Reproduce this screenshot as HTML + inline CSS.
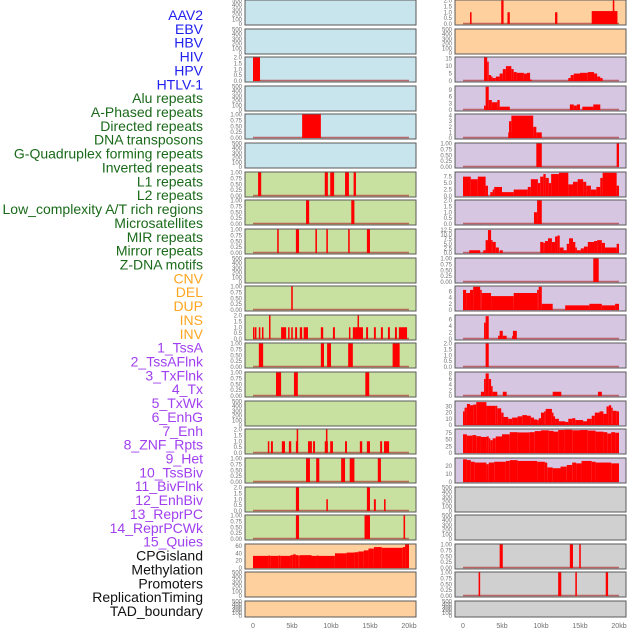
<!DOCTYPE html>
<html><head><meta charset="utf-8"><style>
html,body{margin:0;padding:0;background:#fff;}
svg{display:block;font-family:"Liberation Sans",sans-serif;}
</style></head><body>
<svg id="chart" width="630" height="630" viewBox="0 0 630 630" xmlns="http://www.w3.org/2000/svg"></svg>
<script>
const trackLabels = ["AAV2","EBV","HBV","HIV","HPV","HTLV-1","Alu repeats","A-Phased repeats","Directed repeats","DNA transposons","G-Quadruplex forming repeats","Inverted repeats","L1 repeats","L2 repeats","Low_complexity A/T rich regions","Microsatellites","MIR repeats","Mirror repeats","Z-DNA motifs","CNV","DEL","DUP","INS","INV","1_TssA","2_TssAFlnk","3_TxFlnk","4_Tx","5_TxWk","6_EnhG","7_Enh","8_ZNF_Rpts","9_Het","10_TssBiv","11_BivFlnk","12_EnhBiv","13_ReprPC","14_ReprPCWk","15_Quies","CPGisland","Methylation","Promoters","ReplicationTiming","TAD_boundary"];
const labelGroups = ["v","v","v","v","v","v","r","r","r","r","r","r","r","r","r","r","r","r","r","s","s","s","s","s","c","c","c","c","c","c","c","c","c","c","c","c","c","c","c","o","o","o","o","o"];
const xTickValues = [0,5,10,15,20];
const xTickLabels = ["0","5kb","10kb","15kb","20kb"];

const ticksEmpty = [0,100,200,300,400,500];
const ticksBin = [0,0.25,0.5,0.75,1];
const ticksBinLbl = ["0.00","0.25","0.50","0.75","1.00"];
const ticks2 = [0,0.5,1,1.5,2];
const ticks2Lbl = ["0.0","0.5","1.0","1.5","2.0"];

// Left column data (segments: [startKb, endKb, value])
const leftHIV = [[0,0.9,2]];
const leftHPV = [[6.3,8.7,1]];
const leftL1 = [[0.65,1.05,1],[9.2,9.6,1],[9.9,10.4,1],[11.8,12.3,1],[12.9,13.2,1]];
const leftL2 = [[6.8,7.2,1],[12.6,13.0,1]];
const leftLowComplexity = [[3.1,3.3,1],[5.5,5.9,1],[8.0,8.2,1],[9.4,9.6,1],[12.2,12.4,1],[14.6,15.0,1]];
const leftMIR = [[4.9,5.1,1]];
const leftZDNA = [[0,0.15,1],[0.25,0.4,1],[0.75,0.9,1],[1.15,1.3,1],[2.05,2.2,2],[3.6,4.25,1],[4.5,4.6,1],[4.9,5.1,1],[5.4,5.65,1],[6.0,6.3,1],[6.5,7.05,1],[8.7,9.0,1],[10.25,10.5,1],[12.3,12.45,1],[12.8,13.2,1],[13.2,14.1,1],[13.4,13.55,2],[14.5,14.75,1],[15.5,15.75,1],[16.4,16.65,1],[17.3,17.55,1],[18.2,18.45,1],[18.7,19.75,1]];
const leftCNV = [[0.75,1.3,1],[8.7,9.1,1],[9.5,10.0,1],[12.2,12.8,1],[17.9,18.8,1]];
const leftDEL = [[2.95,3.6,1],[5.25,5.75,1],[14.4,14.9,1]];
const leftINS = [[1.9,2.05,1],[2.3,2.55,1],[3.7,4.1,1],[4.6,4.9,1],[5.5,5.75,1],[5.6,5.75,2],[7.05,7.55,1],[7.7,7.95,1],[9.2,9.6,1],[9.35,9.5,2],[9.9,10.25,1],[11.8,12.05,1],[13.7,14.0,1],[14.6,15.0,1],[16.3,16.55,1],[16.8,17.45,1]];
const leftINV = [[6.8,7.3,1],[8.1,8.5,1],[11.3,11.8,1],[12.4,13.0,1],[16.0,16.4,1]];
const leftTssA = [[5.5,5.9,2],[9.4,9.6,1],[14.6,15.0,2],[15.5,15.75,1],[16.8,17.0,1]];
const leftTssAFlnk = [[5.5,5.9,1],[14.3,15.0,1],[19.3,19.5,1]];
// step series: [startKb, value], holds until next start or 20kb
const leftTxFlnkSteps = [[0,33],[2,34],[2.2,33],[3.3,34],[3.5,33],[4.8,35],[5.1,37],[5.5,35],[5.8,34],[6,35],[7.5,33],[8.2,34],[8.4,33],[10.5,40],[12,42],[13,43],[13.5,45],[14.2,48],[14.8,53],[15.5,57],[16.5,55],[19.2,57],[19.5,64]];

// Right column data
const rightAAV2 = [[0.9,1.1,1],[4.9,5.2,2],[5.7,6.0,1],[11.8,12.1,1],[16.5,19.8,1.1],[19.2,19.4,2]];
const rightHIV = [[2.7,3.1,16],[3.1,3.3,13],[3.3,3.6,4],[3.6,3.8,3],[3.8,4.2,2],[4.2,4.7,3],[4.7,5.1,5],[5.1,5.5,8],[5.5,6.2,10],[6.2,6.5,8],[6.5,6.9,6],[6.9,7.8,5.5],[7.8,8.2,5],[8.2,8.6,5.5],[8.6,8.8,1],[13.5,13.8,2],[13.8,14.2,4],[14.2,15.0,5],[15.0,16.0,5.5],[16.0,16.8,6],[16.8,17.2,5],[17.2,17.6,3],[17.6,17.9,2]];
const rightHPV = [[2.7,2.9,2],[2.9,3.3,10.5],[3.3,3.7,4.5],[3.7,4.4,3.5],[4.4,4.7,4.5],[4.7,6.0,1.5],[13.7,14.2,2.5],[14.2,14.6,2],[14.6,15.0,2.5],[15.3,16.7,1.5],[16.7,17.6,2.5]];
const rightHTLV = [[5.8,6.2,1],[5.9,6.2,3],[6.2,9.0,4],[9.0,9.4,2],[9.4,10.1,1]];
const rightAlu = [[9.4,10.1,1],[19.7,20,1]];
const rightDirectedSteps = [[0,7.5],[1.0,6.5],[1.9,7.5],[2.9,4],[3.2,0],[3.5,1.5],[3.8,2.5],[4.0,3.5],[5.0,1.5],[6.5,2.5],[8.3,3.5],[8.7,6.5],[9.6,5],[9.9,7.5],[10.3,8.5],[10.6,7],[11.0,5],[11.3,8.5],[12.3,9],[13.5,4.5],[14.1,5.5],[14.7,6.5],[15.4,5.5],[15.8,4],[16.4,2.5],[17.1,3.5],[17.6,7],[17.9,9],[19.7,4]];
const rightDNA = [[9.1,9.5,1],[9.5,10.1,2]];
const rightGQuadSteps = [[0.8,1.5],[2.2,0],[2.6,1.5],[2.9,7],[3.2,12.5],[3.6,7],[3.8,6],[4.2,3],[4.6,0],[4.7,1.5],[5.1,0],[9.9,6],[10.3,5.5],[10.5,6.5],[10.9,8],[11.4,6],[11.8,9],[12.1,9.5],[12.4,3],[12.9,1.5],[13.3,5],[13.6,8],[14.1,6],[14.4,3],[14.6,1.5],[15.1,2.5],[15.5,3.5],[16.0,6],[16.8,6.5],[17.2,7],[17.8,5.5],[18.2,3],[19.7,5]];
const rightInverted = [[16.7,17.4,1]];
const rightL1Steps = [[0,6.5],[0.4,5.5],[0.9,6.5],[1.3,7.5],[2.2,6.5],[2.4,5.5],[3.6,4.5],[6.5,5.5],[9.5,6.5],[9.7,7.5],[10.1,2],[11.5,0],[13.1,1.5],[16.2,2],[17.8,1.5],[19.5,2]];
const rightL2 = [[2.7,2.9,5],[2.9,3.3,7],[4.5,4.7,1],[4.7,5.1,2.5],[5.1,5.6,1],[6.3,6.4,1],[6.4,6.9,2.5]];
const rightLowComplexity = [[2.9,3.3,2]];
const rightMicro = [[2.3,2.7,1.5],[2.7,2.9,6],[2.9,3.3,8],[3.3,3.6,6],[3.6,3.8,3.5],[3.8,4.4,1.5],[5.1,5.6,1.5],[11.5,12.6,1.5],[17.3,17.8,1.5]];
const rightMIRSteps = [[0,22],[0.2,28],[0.5,34],[0.9,32],[1.3,33],[1.7,37],[3.0,31],[4.2,31],[4.4,27],[4.9,20],[5.2,13],[5.8,10],[6.3,12],[7.0,14],[7.6,16],[8.2,15],[8.7,12],[9.1,9],[9.5,8],[9.7,11],[10.0,20],[10.4,22],[10.6,26],[11.4,20],[11.6,14],[11.8,10],[12.3,6],[13.1,5],[13.5,10],[14.0,11],[14.4,8],[15.4,6],[15.9,10],[16.5,15],[16.9,20],[17.5,22],[18.0,18],[18.4,30],[18.7,32],[19.0,28],[19.2,23],[19.7,22]];
const rightMirrorSteps = [[0,70],[0.5,65],[1.2,67],[1.7,63],[2.3,60],[3.0,62],[3.3,55],[3.5,48],[3.8,55],[4.2,62],[5,70],[6,78],[7,77],[8.5,78],[9.2,82],[10,85],[11,83],[11.6,80],[12.2,86],[13,87],[14,85],[15,86],[16,84],[17,80],[18,78],[18.5,73],[19,78],[19.5,76]];
const rightZDNASteps = [[0,28],[0.5,27],[1,25],[1.5,24],[3,22],[3.3,24],[4,25],[5.5,26],[6,27],[7,26],[9.5,25],[10.5,24],[10.8,18],[11.5,17],[12.5,19],[13.3,21],[14,24],[14.5,23],[15.2,26],[16.5,25],[17,24],[19,23]];
const rightTssA = [[4.7,5.1,1],[13.7,14.1,1],[14.9,15.1,1]];
const rightTssAFlnk = [[2.0,2.2,1],[12.2,12.6,1],[14.4,14.6,1],[18.3,18.6,1]];

const COL = {blue:"#c8e4ec",green:"#c8e0a0",orange:"#fdd09e",purple:"#d6c6e2",gray:"#d0d0d0"};
// panel: [column, row, bg, ticks, tickLabels, ymax, segs, steps]
const panels = [
 ["L",0,"blue",ticksEmpty,null,500,null,null],["L",1,"blue",ticksEmpty,null,500,null,null],
 ["L",2,"blue",ticks2,ticks2Lbl,2,leftHIV,null],["L",3,"blue",ticksEmpty,null,500,null,null],
 ["L",4,"blue",ticksBin,ticksBinLbl,1,leftHPV,null],["L",5,"blue",ticksEmpty,null,500,null,null],
 ["L",6,"green",ticksBin,ticksBinLbl,1,leftL1,null],["L",7,"green",ticksBin,ticksBinLbl,1,leftL2,null],
 ["L",8,"green",ticksBin,ticksBinLbl,1,leftLowComplexity,null],["L",9,"green",ticksEmpty,null,500,null,null],
 ["L",10,"green",ticksBin,ticksBinLbl,1,leftMIR,null],["L",11,"green",ticks2,ticks2Lbl,2,leftZDNA,null],
 ["L",12,"green",ticksBin,ticksBinLbl,1,leftCNV,null],["L",13,"green",ticksBin,ticksBinLbl,1,leftDEL,null],
 ["L",14,"green",ticksEmpty,null,500,null,null],["L",15,"green",ticks2,ticks2Lbl,2,leftINS,null],
 ["L",16,"green",ticksBin,ticksBinLbl,1,leftINV,null],["L",17,"green",ticks2,ticks2Lbl,2,leftTssA,null],
 ["L",18,"green",ticksBin,ticksBinLbl,1,leftTssAFlnk,null],["L",19,"orange",[0,20,40,60],null,64,null,leftTxFlnkSteps],
 ["L",20,"orange",ticksEmpty,null,500,null,null],["L",21,"orange",ticksEmpty,null,500,null,null],
 ["R",0,"orange",ticks2,ticks2Lbl,2,rightAAV2,null],["R",1,"orange",ticksEmpty,null,500,null,null],
 ["R",2,"purple",[0,5,10,15],null,15.8,rightHIV,null],["R",3,"purple",[0,3,6,9],null,10.6,rightHPV,null],
 ["R",4,"purple",[0,1,2,3,4],null,4.2,rightHTLV,null],["R",5,"purple",ticksBin,ticksBinLbl,1,rightAlu,null],
 ["R",6,"purple",[0,2.5,5,7.5],["0.0","2.5","5.0","7.5"],9.1,null,rightDirectedSteps],["R",7,"purple",ticks2,ticks2Lbl,2,rightDNA,null],
 ["R",8,"purple",[0,2.5,5,7.5,10,12.5],["0.0","2.5","5.0","7.5","10.0","12.5"],12.8,null,rightGQuadSteps],["R",9,"purple",ticksBin,ticksBinLbl,1,rightInverted,null],
 ["R",10,"purple",[0,2,4,6],null,7.6,null,rightL1Steps],["R",11,"purple",[0,2,4,6],null,7.2,rightL2,null],
 ["R",12,"purple",ticks2,ticks2Lbl,2,rightLowComplexity,null],["R",13,"purple",[0,2,4,6,8],null,8.3,rightMicro,null],
 ["R",14,"purple",[0,10,20,30],null,38,null,rightMIRSteps],["R",15,"purple",[0,25,50,75],null,88,null,rightMirrorSteps],
 ["R",16,"purple",[0,10,20],null,29,null,rightZDNASteps],["R",17,"gray",ticksEmpty,null,500,null,null],
 ["R",18,"gray",ticksEmpty,null,500,null,null],["R",19,"gray",ticksBin,ticksBinLbl,1,rightTssA,null],
 ["R",20,"gray",ticksBin,ticksBinLbl,1,rightTssAFlnk,null],["R",21,"gray",ticksEmpty,null,500,null,null]
];

const NS = "http://www.w3.org/2000/svg";
const svg = document.getElementById("chart");
function mk(tag, attrs, parent){const e=document.createElementNS(NS,tag);for(const k in attrs)e.setAttribute(k,attrs[k]);(parent||svg).appendChild(e);return e;}
const grpColor = {v:"#2020f0",r:"#1a6a1a",s:"#ffa520",c:"#a040f0",o:"#111111"};

trackLabels.forEach((t,i)=>{
  const el = mk("text",{x:203,y:15+i*13.86+5,"text-anchor":"end","font-size":14,fill:grpColor[labelGroups[i]]});
  el.textContent = t;
  
  
});

function xScale(col,kb){return (col==="L"?253:463)+kb*7.8;}
function rowTop(r){return Math.round(r*28.62);}

panels.forEach(p=>{
  const [col,row,bg,ticks,tlbl,ymax,segs,steps]=p;
  const x0 = col==="L"?245:455, w=171;
  const t = rowTop(row), h = row===21?16:25;
  const g = mk("g",{});
  
  
  const ys = v => t+h-1 - Math.min(v,ymax)/ymax*(h-1.5);
  const bgR = mk("rect",{x:x0,y:t,width:w,height:h,fill:COL[bg],stroke:"#5a5a5a","stroke-width":1},g);
  
  
  ticks.forEach((tv,i)=>{
    const tx = mk("text",{x:x0-3,y:ys(tv)+2,"text-anchor":"end","font-size":6,fill:"#707070"},g);
    tx.textContent = tlbl?tlbl[i]:String(tv);
    
    
  });
  if(segs||steps){
    const bl = mk("line",{x1:xScale(col,0),x2:xScale(col,20),y1:ys(0)-0.5,y2:ys(0)-0.5,stroke:"#b03838","stroke-width":1.6,"stroke-opacity":0.7},g);
    
    
  }
  const bars = [];
  if(segs) segs.forEach(s=>bars.push([s[0],s[1],s[2]]));
  if(steps) steps.forEach((s,i)=>bars.push([s[0], i<steps.length-1?steps[i+1][0]:20, s[1]]));
  bars.forEach(b=>{
    if(b[2]<=0) return;
    const xa=xScale(col,b[0]), xb=xScale(col,b[1]);
    const y=ys(b[2]);
    const r = mk("rect",{x:xa,y:y,width:Math.max(1.5,xb-xa),height:ys(0)-y,fill:"#ff0000"},g);
    
    
  });
});

["L","R"].forEach(col=>{
  xTickValues.forEach((v,i)=>{
    const tx = mk("text",{x:xScale(col,v),y:628,"text-anchor":"middle","font-size":7,fill:"#707070"});
    tx.textContent = xTickLabels[i];
    
    
  });
});
</script>
</body></html>
